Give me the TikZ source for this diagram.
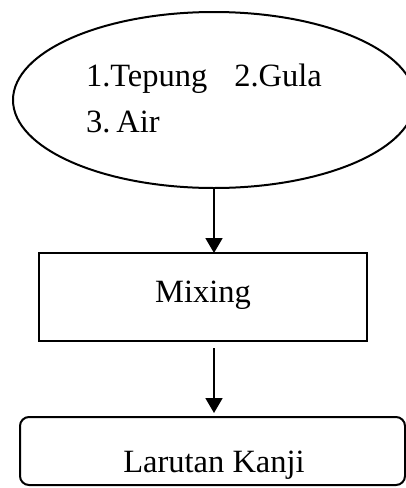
\documentclass[tikz,border=0pt]{standalone}
\usepackage{fontspec}
\setmainfont{Liberation Serif}
\usetikzlibrary{shapes.geometric,arrows.meta}
\begin{document}
\begin{tikzpicture}[x=1pt,y=-1pt,
  every node/.style={font=\fontsize{32.5}{46}\selectfont, inner sep=0pt, outer sep=0pt},
  stroke/.style={draw=black, line width=2pt},
  txt/.style={anchor=base},
  arr/.style={line width=1.8pt, -{Triangle[length=15pt,width=17pt]}},
]
\useasboundingbox (0,0) rectangle (406,488);

% ingredients
\node[stroke, ellipse, minimum width=402pt, minimum height=176pt] (src) at (214,100) {};
\node[anchor=base west] (ing1) at (86,86) {1.Tepung\hspace{27pt}2.Gula};
\node[anchor=base west] (ing2) at (86,132) {3.\hspace{6pt}Air};

% process step
\node[stroke, minimum width=328pt, minimum height=88pt] (mix) at (203,297) {};
\node[txt] (mixtxt) at (203,302) {Mixing};

% result
\node[stroke, rounded corners=9pt, minimum width=385pt, minimum height=68pt] (fin) at (212.5,451) {};
\node[txt] (fintxt) at (214,472) {Larutan Kanji};

% flow
\draw[arr] (src.south) -- (src.south |- mix.north);
\draw[arr, shorten <=7pt, shorten >=4pt] (src.south |- mix.south) -- (src.south |- fin.north);
\end{tikzpicture}
\end{document}
